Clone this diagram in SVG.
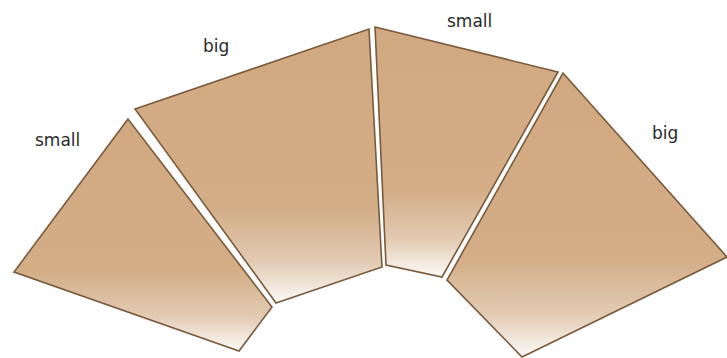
<svg xmlns="http://www.w3.org/2000/svg" width="727" height="358" viewBox="0 0 727 358">
<defs>
<linearGradient id="g" x1="0" y1="0" x2="0" y2="1">
<stop offset="0" stop-color="#d1a981"/>
<stop offset="0.65" stop-color="#d3ad86"/>
<stop offset="0.85" stop-color="#e2cbb3"/>
<stop offset="1" stop-color="#fcfaf7"/>
</linearGradient>
<style>
.p{fill:url(#g);stroke:#7a5a3c;stroke-width:1.6;stroke-linejoin:miter}
.t{font-family:"DejaVu Sans",sans-serif;font-size:17px;fill:#2a2a2a}
</style>
</defs>
<rect width="727" height="358" fill="#ffffff"/>
<g id="piece1"><polygon class="p" points="128,119 14,272 239,351 272,307"/></g>
<g id="piece2"><polygon class="p" points="135,109 369,29 382,267 276,303"/></g>
<g id="piece3"><polygon class="p" points="375,27 558,72 442,277 386,265"/></g>
<g id="piece4"><polygon class="p" points="563,73 727,257 522,357 447,280"/></g>
<g id="labels">
<text class="t" x="35" y="146">small</text>
<text class="t" x="203" y="52">big</text>
<text class="t" x="447" y="27">small</text>
<text class="t" x="652" y="139">big</text>
</g>
</svg>
